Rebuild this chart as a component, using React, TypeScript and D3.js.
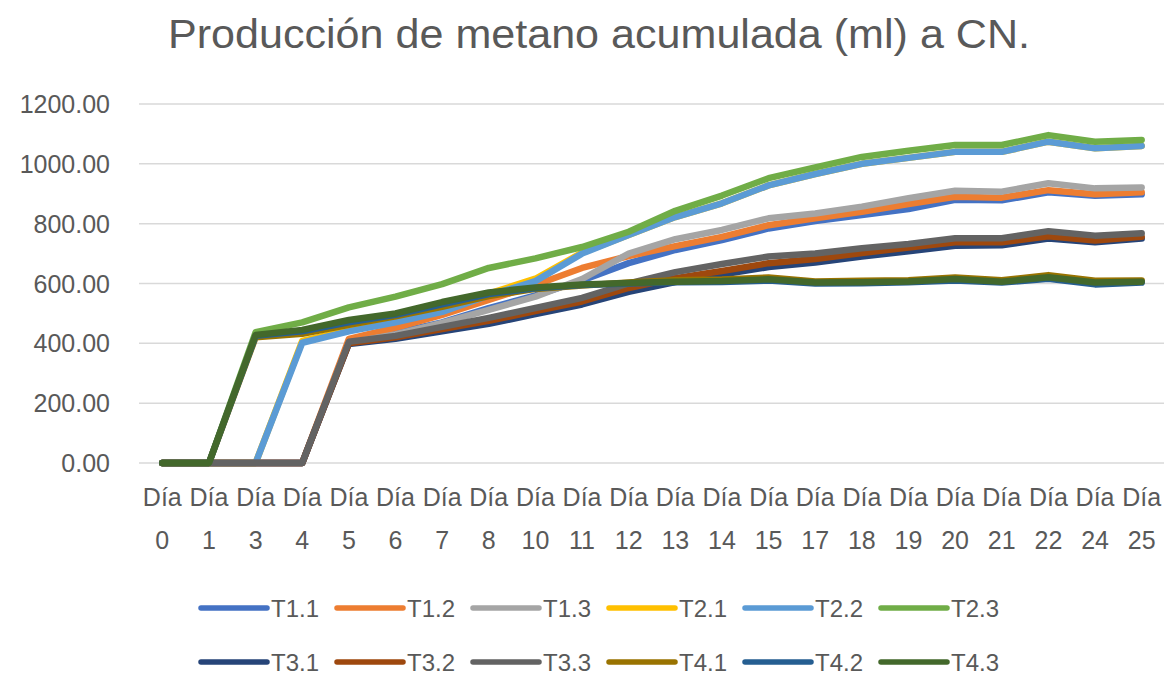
import React from "react";
import * as d3 from "d3";

const categories = ["0", "1", "3", "4", "5", "6", "7", "8", "10", "11", "12", "13", "14", "15", "17", "18", "19", "20", "21", "22", "24", "25"];
const yTicks = [0, 200, 400, 600, 800, 1000, 1200];

const T1_1 = [0, 0, 0, 0, 405, 435, 470, 518, 560, 610, 668, 712, 745, 784, 809, 829, 849, 880, 878, 905, 893, 898];
const T1_2 = [0, 0, 0, 0, 415, 452, 495, 545, 595, 652, 692, 725, 756, 795, 818, 840, 866, 890, 887, 912, 898, 905];
const T1_3 = [0, 0, 0, 0, 402, 430, 468, 512, 556, 615, 700, 748, 779, 818, 834, 857, 885, 910, 907, 935, 918, 921];
const T2_1 = [0, 0, 0, 408, 444, 475, 512, 566, 616, 703, 762, 822, 868, 928, 966, 1000, 1020, 1040, 1040, 1074, 1052, 1060];
const T2_2 = [0, 0, 0, 402, 440, 470, 505, 560, 608, 700, 762, 822, 868, 928, 966, 1000, 1020, 1040, 1040, 1074, 1052, 1060];
const T2_3 = [0, 0, 437, 470, 520, 556, 598, 652, 684, 722, 773, 843, 894, 952, 988, 1023, 1044, 1063, 1063, 1096, 1074, 1080];
const T3_1 = [0, 0, 0, 0, 398, 415, 440, 465, 498, 530, 572, 605, 630, 655, 670, 690, 708, 726, 728, 750, 738, 750];
const T3_2 = [0, 0, 0, 0, 400, 420, 448, 475, 508, 540, 585, 618, 642, 668, 682, 702, 720, 738, 738, 758, 744, 756];
const T3_3 = [0, 0, 0, 0, 405, 425, 455, 485, 518, 552, 600, 638, 665, 690, 700, 718, 732, 751, 751, 775, 760, 768];
const T4_1 = [0, 0, 420, 432, 462, 490, 522, 558, 582, 593, 603, 611, 613, 620, 607, 609, 611, 620, 611, 628, 609, 610];
const T4_2 = [0, 0, 425, 440, 470, 495, 530, 565, 584, 595, 600, 604, 605, 610, 600, 601, 604, 610, 603, 616, 597, 603];
const T4_3 = [0, 0, 428, 445, 478, 500, 538, 570, 587, 597, 602, 606, 608, 614, 603, 604, 607, 615, 606, 621, 603, 606];

const seriesNames = ["T1.1", "T1.2", "T1.3", "T2.1", "T2.2", "T2.3", "T3.1", "T3.2", "T3.3", "T4.1", "T4.2", "T4.3"];
const seriesValues = [T1_1, T1_2, T1_3, T2_1, T2_2, T2_3, T3_1, T3_2, T3_3, T4_1, T4_2, T4_3];
const seriesColors = ["#4472C4", "#ED7D31", "#A5A5A5", "#FFC000", "#5B9BD5", "#70AD47", "#264478", "#9E480E", "#636363", "#997300", "#255E91", "#43682B"];

const title = "Producción de metano acumulada (ml) a CN.";

export default function App() {
  const W = 1164, H = 675;
  const x = d3.scaleBand<string>().domain(categories).range([139, 1165]);
  const cx = (c: string) => (x(c) as number) + x.bandwidth() / 2;
  const y = d3.scaleLinear().domain([0, 1200]).range([463, 104]);
  const line = d3.line<number>()
    .x((_, i) => cx(categories[i]))
    .y((v) => y(v))
    .curve(d3.curveLinear);
  const font = "'Liberation Sans', Arial, sans-serif";
  const txt = "#595959";

  const legendX0 = 199, legendStep = 136;
  const legendRows = [608, 662];

  return (
    <svg width={W} height={H} style={{ position: "absolute", left: 0, top: 0, background: "#fff" }} fontFamily={font}>
      <rect x={0} y={0} width={W} height={H} fill="#fff" />
      <text x={599} y={48} textAnchor="middle" fontSize={40} fill={txt} textLength={862} lengthAdjust="spacingAndGlyphs">{title}</text>
      {yTicks.map((t) => (
        <g key={t}>
          <line x1={139} x2={1164} y1={y(t)} y2={y(t)} stroke="#d9d9d9" strokeWidth={1.5} />
          <text x={110} y={y(t)} textAnchor="end" dominantBaseline="central" fontSize={25} fill={txt}>{t.toFixed(2)}</text>
        </g>
      ))}
      {categories.map((c) => (
        <g key={c}>
          <text x={cx(c)} y={497} textAnchor="middle" dominantBaseline="central" fontSize={25} fill={txt}>Día</text>
          <text x={cx(c)} y={540} textAnchor="middle" dominantBaseline="central" fontSize={25} fill={txt}>{c}</text>
        </g>
      ))}
      {seriesValues.map((vals, i) => (
        <path key={seriesNames[i]} d={line(vals) || ""} fill="none" stroke={seriesColors[i]} strokeWidth={6.5} strokeLinejoin="round" strokeLinecap="round" />
      ))}
      {seriesNames.map((n, i) => {
        const row = Math.floor(i / 6);
        const col = i % 6;
        const lx = legendX0 + col * legendStep;
        const ly = legendRows[row];
        return (
          <g key={n}>
            <line x1={lx + 2} x2={lx + 68} y1={ly} y2={ly} stroke={seriesColors[i]} strokeWidth={5.5} strokeLinecap="round" />
            <text x={lx + 72} y={ly} dominantBaseline="central" fontSize={24} fill={txt}>{n}</text>
          </g>
        );
      })}
    </svg>
  );
}
